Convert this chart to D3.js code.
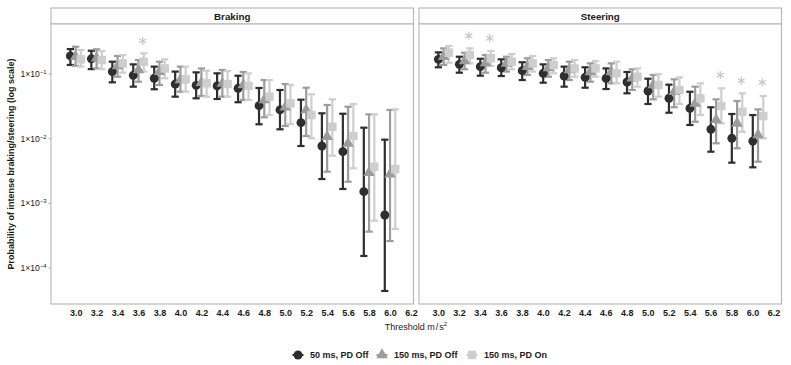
<!DOCTYPE html>
<html>
<head>
<meta charset="utf-8">
<script src="https://cdn.jsdelivr.net/npm/d3@7"></script>
<style>
  body { margin: 0; background: #fff; }
  svg { font-family: "Liberation Sans", Arial, sans-serif; }
</style>
</head>
<body>
<svg id="chart" width="791" height="365"></svg>
<script>
// thresholds (m/s^2) and axis ticks
const thresholds = [3.0, 3.2, 3.4, 3.6, 3.8, 4.0, 4.2, 4.4, 4.6, 4.8, 5.0, 5.2, 5.4, 5.6, 5.8, 6.0];
const xTicks = [3.0, 3.2, 3.4, 3.6, 3.8, 4.0, 4.2, 4.4, 4.6, 4.8, 5.0, 5.2, 5.4, 5.6, 5.8, 6.0, 6.2];
const yTicks = [1e-1, 1e-2, 1e-3, 1e-4];
const yTickExp = ["−1", "−2", "−3", "−4"];
const seriesNames = ["50 ms, PD Off", "150 ms, PD Off", "150 ms, PD On"];
const panelNames = ["Braking", "Steering"];

// [estimate, lower, upper] per threshold
const brake50Off = [[0.190,0.138,0.243],[0.172,0.119,0.229],[0.109,0.0744,0.155],[0.0955,0.0637,0.141],[0.0859,0.0581,0.130],[0.070,0.0446,0.109],[0.0668,0.0421,0.106],[0.0653,0.0411,0.1025],[0.0601,0.0366,0.0941],[0.0324,0.0167,0.0608],[0.0278,0.01397,0.0566],[0.01767,0.00771,0.0401],[0.00771,0.00238,0.0247],[0.0063,0.00167,0.0243],[0.00152,0.000154,0.0148],[0.000662,0.0000443,0.00966]];
const brake150Off = [[0.185,0.134,0.264],[0.175,0.122,0.241],[0.133,0.0908,0.190],[0.1154,0.076,0.1644],[0.109,0.0676,0.155],[0.0807,0.0532,0.130],[0.0734,0.0457,0.122],[0.0718,0.0446,0.1154],[0.0676,0.0397,0.1074],[0.0397,0.0214,0.0807],[0.0306,0.0157,0.070],[0.0278,0.0110,0.0614],[0.01074,0.00309,0.0332],[0.00849,0.00216,0.0312],[0.00298,0.000366,0.0238],[0.00284,0.000262,0.0278]];
const brake150On = [[0.1686,0.130,0.235],[0.1644,0.1183,0.2265],[0.146,0.1047,0.197],[0.155,0.109,0.209],[0.122,0.0859,0.1686],[0.0828,0.0532,0.130],[0.0718,0.0446,0.1125],[0.070,0.0446,0.1112],[0.0653,0.0397,0.1025],[0.0446,0.0232,0.0807],[0.0352,0.01687,0.0676],[0.0232,0.01014,0.0485],[0.0153,0.00546,0.0406],[0.0110,0.00349,0.0344],[0.00369,0.00054,0.0238],[0.0034,0.000402,0.0284]];
const steer50Off = [[0.1686,0.127,0.216],[0.141,0.1047,0.185],[0.130,0.0941,0.172],[0.125,0.0931,0.1686],[0.1125,0.0807,0.152],[0.1025,0.0734,0.141],[0.0931,0.0637,0.130],[0.0889,0.0614,0.127],[0.0859,0.0586,0.122],[0.0752,0.0503,0.1074],[0.0546,0.0344,0.0846],[0.0421,0.0252,0.0684],[0.0295,0.0163,0.0532],[0.01397,0.0063,0.0306],[0.01014,0.00426,0.0241],[0.0092,0.00361,0.0232]];
const steer150Off = [[0.185,0.138,0.249],[0.159,0.1183,0.213],[0.148,0.1047,0.197],[0.146,0.109,0.185],[0.130,0.0966,0.175],[0.1239,0.0908,0.1644],[0.1154,0.0807,0.155],[0.1074,0.076,0.146],[0.1074,0.0718,0.146],[0.0859,0.0566,0.1183],[0.0676,0.0406,0.0966],[0.0532,0.0306,0.0828],[0.0352,0.0183,0.0637],[0.01945,0.00849,0.0406],[0.0173,0.00711,0.0383],[0.0114,0.00441,0.0284]];
const steer150On = [[0.213,0.1496,0.271],[0.197,0.146,0.249],[0.175,0.133,0.2265],[0.155,0.1183,0.204],[0.146,0.109,0.190],[0.138,0.1025,0.175],[0.122,0.0908,0.1644],[0.122,0.0908,0.159],[0.1025,0.0718,0.155],[0.0908,0.0637,0.122],[0.0676,0.0446,0.100],[0.0566,0.0344,0.0889],[0.0421,0.0232,0.0718],[0.032,0.0173,0.0601],[0.0261,0.0128,0.0503],[0.0224,0.01014,0.0457]];

// significance markers
const brakeStarX = [3.6];
const brakeStarP = [0.324];
const steerStarX = [3.2, 3.4, 5.6, 5.8, 6.0];
const steerStarP = [0.391, 0.356, 0.0966, 0.0787, 0.0744];

const colors = ["#2e2e2e", "#9c9c9c", "#cecece"];
const dodge = [-0.05, 0, 0.05];
const shapes = [d3.symbolCircle, d3.symbolTriangle, d3.symbolSquare];
const shapeSize = [62, 58, 72];

const panels = [
  { name: panelNames[0], left: 51, series: [brake50Off, brake150Off, brake150On], starX: brakeStarX, starP: brakeStarP, axisShift: 0 },
  { name: panelNames[1], left: 419, series: [steer50Off, steer150Off, steer150On], starX: steerStarX, starP: steerStarP, axisShift: -5.5 },
];

const svg = d3.select("#chart");
const panelW = 362.5;
const stripTop = 8, panelTop = 24, panelBottom = 304;
const panelH = panelBottom - panelTop;

const x = d3.scaleLinear().domain([2.765, 6.224]).range([0, panelW]);
const y = d3.scaleLog().domain([2.786e-5, 0.5928]).range([panelH, 0]);

panels.forEach((p) => {
  // strip
  svg.append("rect")
    .attr("x", p.left).attr("y", stripTop)
    .attr("width", panelW).attr("height", panelTop - stripTop)
    .attr("fill", "#fff").attr("stroke", "#b5b5b5").attr("stroke-width", 1.1);
  svg.append("text")
    .attr("x", p.left + panelW / 2).attr("y", (stripTop + panelTop) / 2 + 3.5)
    .attr("text-anchor", "middle")
    .attr("font-size", 9.8).attr("font-weight", "bold").attr("fill", "#1a1a1a")
    .text(p.name);

  const g = svg.append("g").attr("transform", `translate(${p.left},${panelTop})`);

  g.append("rect")
    .attr("width", panelW).attr("height", panelH)
    .attr("fill", "#fff").attr("stroke", "#b5b5b5").attr("stroke-width", 1.1);

  // x axis labels
  const xa = g.append("g")
    .attr("transform", `translate(${p.axisShift},${panelH})`)
    .call(d3.axisBottom(x).tickValues(xTicks).tickFormat(d3.format(".1f")).tickSize(0).tickPadding(6));
  xa.select(".domain").remove();
  xa.selectAll("text").attr("font-size", 9).attr("font-weight", "bold").attr("fill", "#1a1a1a")
    .attr("font-family", "Liberation Sans, Arial, sans-serif");

  // error bars first, then points (layer order)
  p.series.forEach((s, i) => {
    const eb = g.append("g");
    s.forEach((d, k) => {
      const cx = x(thresholds[k] + dodge[i]);
      eb.append("line").attr("x1", cx).attr("x2", cx)
        .attr("y1", y(d[1])).attr("y2", y(d[2]))
        .attr("stroke", colors[i]).attr("stroke-width", 2.2);
      [d[1], d[2]].forEach((v) => {
        eb.append("line").attr("x1", cx - 3.6).attr("x2", cx + 3.6)
          .attr("y1", y(v)).attr("y2", y(v))
          .attr("stroke", colors[i]).attr("stroke-width", 2.2);
      });
    });
  });
  p.series.forEach((s, i) => {
    g.append("g").selectAll("path")
      .data(s)
      .join("path")
      .attr("transform", (d, k) => `translate(${x(thresholds[k] + dodge[i])},${y(d[0])})`)
      .attr("d", d3.symbol(shapes[i], shapeSize[i]))
      .attr("fill", colors[i]);
  });

  // asterisks
  g.append("g").selectAll("path")
    .data(p.starX)
    .join("path")
    .attr("transform", (d, k) => `translate(${x(d + 0.04)},${y(p.starP[k])})`)
    .attr("d", d3.symbol(d3.symbolAsterisk, 46))
    .attr("fill", "none").attr("stroke", "#c8c8c8").attr("stroke-width", 1.3);
});

// y axis on the left panel
const ya = svg.append("g").attr("transform", `translate(${panels[0].left},${panelTop})`);
yTicks.forEach((t, i) => {
  ya.append("line").attr("x1", -2.5).attr("x2", 0).attr("y1", y(t)).attr("y2", y(t))
    .attr("stroke", "#999").attr("stroke-width", 0.8);
  const tx = ya.append("text")
    .attr("x", -4.5).attr("y", y(t) + 3)
    .attr("text-anchor", "end")
    .attr("font-size", 8.6).attr("fill", "#1a1a1a");
  tx.append("tspan").text("1×10");
  tx.append("tspan").attr("font-size", 5.8).attr("dy", -3.2).text(yTickExp[i]);
});

// axis titles
svg.append("text")
  .attr("transform", `translate(14,${(panelTop + panelBottom) / 2}) rotate(-90)`)
  .attr("text-anchor", "middle")
  .attr("font-size", 9).attr("font-weight", "bold").attr("fill", "#1a1a1a")
  .text("Probability of intense braking/steering (log scale)");

const xt = svg.append("text")
  .attr("x", 416).attr("y", 330)
  .attr("text-anchor", "middle")
  .attr("font-size", 9).attr("fill", "#1a1a1a");
xt.append("tspan").text("Threshold m");
xt.append("tspan").attr("dx", 1).text("/");
xt.append("tspan").attr("dx", 1).text("s");
xt.append("tspan").attr("font-size", 6).attr("dy", -4).text("2");

// legend
const legendX = [298, 382, 472];
const lg = svg.append("g").attr("transform", "translate(0,355)");
seriesNames.forEach((name, i) => {
  lg.append("line").attr("x1", legendX[i] - 5.5).attr("x2", legendX[i] + 5.5)
    .attr("stroke", colors[i]).attr("stroke-width", 2);
  lg.append("path")
    .attr("transform", `translate(${legendX[i]},0)`)
    .attr("d", d3.symbol(shapes[i], shapeSize[i]))
    .attr("fill", colors[i]);
  lg.append("text")
    .attr("x", legendX[i] + 12).attr("y", 3.3)
    .attr("font-size", 9).attr("font-weight", "bold").attr("fill", "#1a1a1a")
    .text(name);
});
</script>
</body>
</html>
